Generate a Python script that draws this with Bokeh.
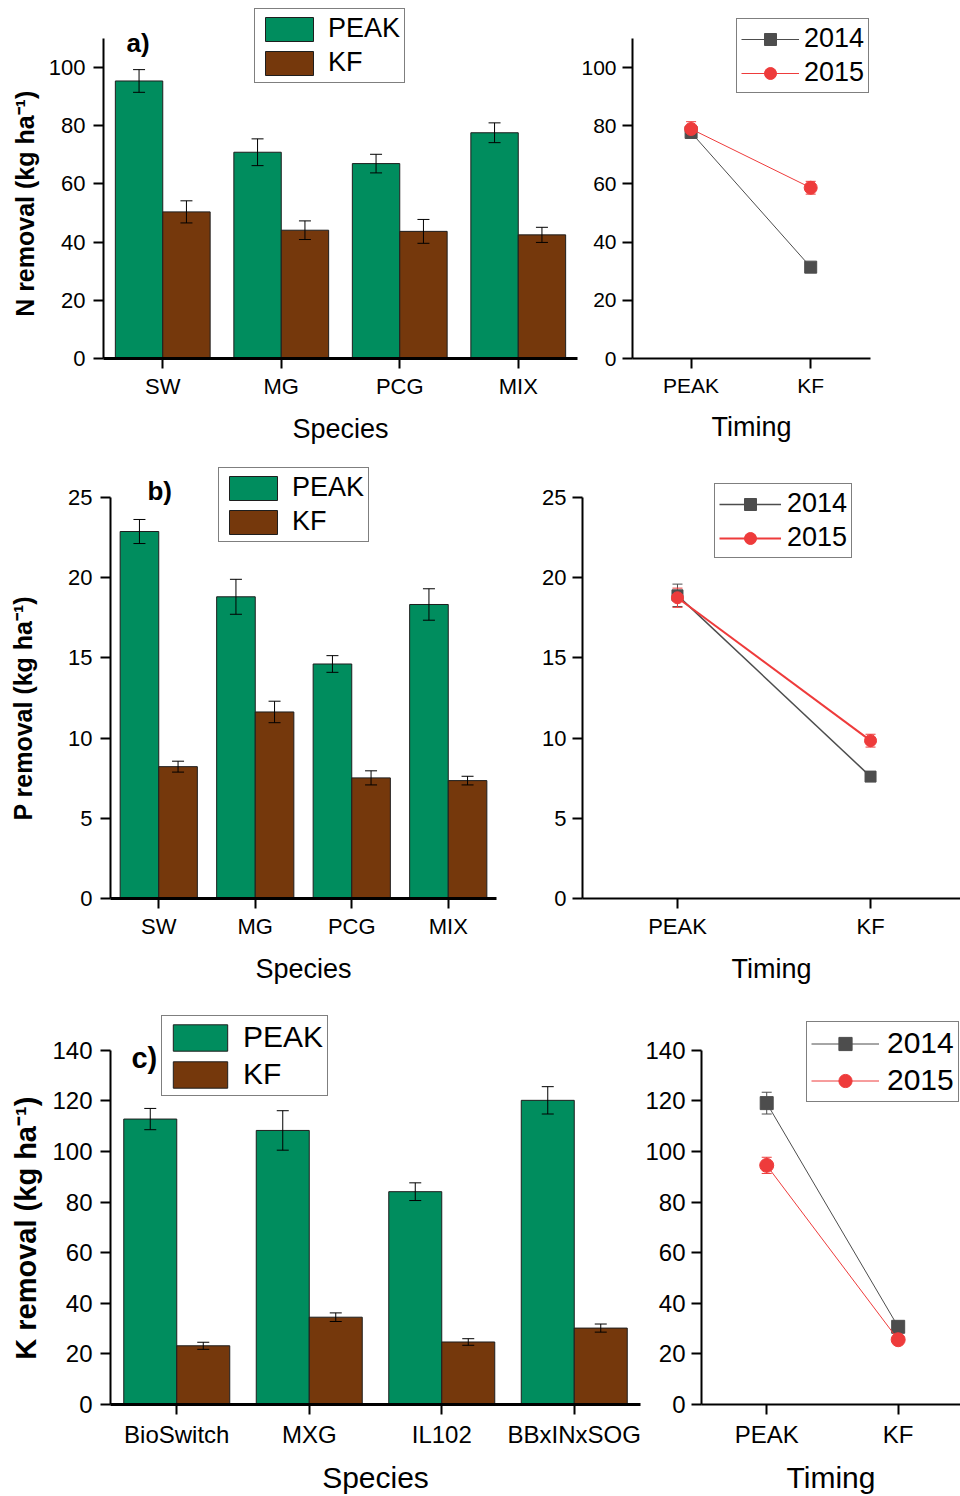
import numpy as np
from bokeh.plotting import figure
from bokeh.models import (Range1d, FixedTicker, Whisker, TeeHead, ColumnDataSource,
                          Legend, LegendItem, Label)
from bokeh.layouts import row, column
from bokeh.embed import file_html
from bokeh.resources import INLINE

# ---------------- data ----------------
species_np = ["SW", "MG", "PCG", "MIX"]
species_k = ["BioSwitch", "MXG", "IL102", "BBxINxSOG"]
timing = ["PEAK", "KF"]

n_peak = [95.4, 70.9, 67.0, 77.6]
n_peak_err = [3.9, 4.6, 3.2, 3.4]
n_kf = [50.4, 44.1, 43.7, 42.5]
n_kf_err = [3.8, 3.2, 4.1, 2.6]

p_peak = [22.88, 18.81, 14.62, 18.33]
p_peak_err = [0.75, 1.09, 0.52, 0.98]
p_kf = [8.22, 11.63, 7.52, 7.35]
p_kf_err = [0.34, 0.67, 0.44, 0.27]

k_peak = [112.8, 108.3, 84.1, 120.2]
k_peak_err = [4.2, 7.8, 3.5, 5.4]
k_kf = [23.2, 34.5, 24.7, 30.2]
k_kf_err = [1.4, 1.7, 1.3, 1.6]

n_2014 = [77.7, 31.4]
n_2014_err = [1.5, 1.0]
n_2015 = [78.9, 58.7]
n_2015_err = [2.5, 2.2]

p_2014 = [18.9, 7.6]
p_2014_err = [0.7, 0.2]
p_2015 = [18.75, 9.84]
p_2015_err = [0.6, 0.4]

k_2014 = [119.1, 30.7]
k_2014_err = [4.3, 1.0]
k_2015 = [94.5, 25.6]
k_2015_err = [3.2, 1.0]

# ---------------- style ----------------
FONT = "Liberation Sans"
GREEN = "#008d5e"
BROWN = "#75380c"
EDGE = "#1e1e1e"
GRAY = "#4d4d4d"
RED = "#ee3b3b"
NBSP = "\u00a0"


def base_fig(W, H, x0, x1, ymax, bl, br, bt, bb, extend_right):
    """Frame extends to the top (and optionally right) edge of the canvas so that
    legends/labels are not clipped; axis bounds keep the visible axes at the
    original extent."""
    ppu_y = (H - bt - bb) / ymax
    y_end = (H - bb) / ppu_y
    if extend_right:
        ppu_x = (W - bl - br) / (x1 - x0)
        x_end = x0 + (W - bl) / ppu_x
        br_used = 0
    else:
        x_end = x1
        br_used = br
    p = figure(width=W, height=H, x_range=Range1d(x0, x_end), y_range=Range1d(0, y_end),
               output_backend="svg", toolbar_location=None, min_border_left=bl,
               min_border_right=br_used, min_border_top=0, min_border_bottom=bb)
    p.outline_line_color = None
    p.xgrid.visible = False
    p.ygrid.visible = False
    p.background_fill_color = None
    p.border_fill_color = None
    p.xaxis[0].bounds = (x0, x1)
    p.yaxis[0].bounds = (0, ymax)
    return p


def style_axes(p, xticks, xlabels, yticks, tick_fs, xlabel, xlab_fs, ylabel, ylab_fs,
               xaxis_w, ylab_standoff, xlab_standoff, xtick_standoff):
    xa = p.xaxis[0]
    ya = p.yaxis[0]
    xa.ticker = FixedTicker(ticks=xticks)
    xa.major_label_overrides = {t: l for t, l in zip(xticks, xlabels)}
    ya.ticker = FixedTicker(ticks=yticks)
    for ax in (xa, ya):
        ax.major_tick_out = 10
        ax.major_tick_in = 0
        ax.minor_tick_line_color = None
        ax.major_tick_line_width = 2
        ax.major_tick_line_color = "black"
        ax.axis_line_color = "black"
        ax.major_label_text_font = FONT
        ax.major_label_text_font_size = f"{tick_fs}px"
        ax.major_label_text_color = "black"
        ax.axis_label_text_font = FONT
        ax.axis_label_text_color = "black"
    xa.axis_line_width = xaxis_w
    ya.axis_line_width = 2
    xa.major_label_standoff = xtick_standoff
    ya.major_label_standoff = 8
    xa.axis_label = xlabel
    xa.axis_label_text_font_size = f"{xlab_fs}px"
    xa.axis_label_text_font_style = "normal"
    xa.axis_label_standoff = xlab_standoff
    if ylabel:
        ya.axis_label = ylabel
        ya.axis_label_text_font_size = f"{ylab_fs}px"
        ya.axis_label_text_font_style = "bold"
        ya.axis_label_standoff = ylab_standoff


def add_legend(p, items, loc, gw, gh, standoff, fs):
    leg = Legend(items=items, location=loc, glyph_width=gw, glyph_height=gh,
                 label_standoff=standoff, padding=4, spacing=3, margin=0,
                 label_text_font=FONT, label_text_font_size=f"{fs}px",
                 label_text_color="black", label_height=gh,
                 border_line_color="black", border_line_width=1,
                 background_fill_color="white", background_fill_alpha=1.0)
    p.add_layout(leg)


def whisker(p, x, v, e, color, head, level):
    v = np.asarray(v, dtype=float)
    e = np.asarray(e, dtype=float)
    src = ColumnDataSource(dict(x=x, up=v + e, lo=v - e))
    w = Whisker(source=src, base="x", upper="up", lower="lo", line_color=color,
                line_width=1, level=level,
                upper_head=TeeHead(size=head, line_color=color, line_width=1),
                lower_head=TeeHead(size=head, line_color=color, line_width=1))
    p.add_layout(w)


def bar_panel(cats, peak, peak_err, kf, kf_err, ymax, yticks, ylabel, tag, tag_xy, tag_fs,
              W, H, bl, br, bt, bb, tick_fs, xlab_fs, ylab_fs, leg_loc, leg_gw, leg_gh,
              leg_fs, ylab_standoff, xlab_standoff, xtick_standoff):
    n = len(cats)
    p = base_fig(W, H, -0.5, n - 0.5, ymax, bl, br, bt, bb, False)
    idx = np.arange(n)
    r1 = p.vbar(x=idx - 0.2, top=peak, width=0.4, fill_color=GREEN,
                line_color=EDGE, line_width=1)
    r2 = p.vbar(x=idx + 0.2, top=kf, width=0.4, fill_color=BROWN,
                line_color=EDGE, line_width=1)
    whisker(p, idx - 0.2, peak, peak_err, "black", 12, "annotation")
    whisker(p, idx + 0.2, kf, kf_err, "black", 12, "annotation")
    style_axes(p, list(range(n)), cats, yticks, tick_fs, "Species", xlab_fs, ylabel,
               ylab_fs, 3, ylab_standoff, xlab_standoff, xtick_standoff)
    add_legend(p, [LegendItem(label="PEAK", renderers=[r1]),
                   LegendItem(label="KF", renderers=[r2])],
               leg_loc, leg_gw, leg_gh, 9, leg_fs)
    p.add_layout(Label(x=tag_xy[0], y=tag_xy[1], text=tag, text_font=FONT,
                       text_font_style="bold", text_font_size=f"{tag_fs}px",
                       text_baseline="middle", text_align="left", text_color="black"))
    return p


def line_panel(v14, e14, v15, e15, ymax, yticks, xr, W, H, bl, br, bt, bb, tick_fs,
               xlab_fs, lw14, lw15, ms, leg_loc, leg_gw, leg_gh, leg_fs, leg_standoff,
               xtick_standoff, xlab_standoff, extend_right):
    p = base_fig(W, H, xr[0], xr[1], ymax, bl, br, bt, bb, extend_right)
    x = np.arange(len(timing))
    whisker(p, x, v14, e14, GRAY, 10, "underlay")
    whisker(p, x, v15, e15, RED, 10, "underlay")
    l14 = p.line(x, v14, line_color=GRAY, line_width=lw14)
    s14 = p.scatter(x, v14, marker="square", size=ms, fill_color=GRAY, line_color=GRAY)
    l15 = p.line(x, v15, line_color=RED, line_width=lw15)
    s15 = p.scatter(x, v15, marker="circle", size=ms + 1, fill_color=RED, line_color=RED)
    style_axes(p, list(range(len(timing))), timing, yticks, tick_fs, "Timing", xlab_fs,
               None, 0, 2, 0, xlab_standoff, xtick_standoff)
    p.yaxis[0].major_label_standoff = 6
    add_legend(p, [LegendItem(label="2014", renderers=[l14, s14]),
                   LegendItem(label="2015", renderers=[l15, s15])],
               leg_loc, leg_gw, leg_gh, leg_standoff, leg_fs)
    return p


# trailing no-break spaces re-centre the y titles on the visible axis
ylab_n = "N removal (kg ha\u207b\u00b9)" + NBSP * 7
ylab_p = "P removal (kg ha\u207b\u00b9)" + NBSP * 9
ylab_k = "K removal (kg ha\u207b\u00b9)" + NBSP * 7

fa = bar_panel(species_np, n_peak, n_peak_err, n_kf, n_kf_err, 110, [0, 20, 40, 60, 80, 100],
               ylab_n, "a)", (-0.306, 108.3), 26, 578, 455, 103, 1, 38, 97, 22, 27, 25,
               (151, 275), 60, 30, 27, 7, 12, 5)
fla = line_panel(n_2014, n_2014_err, n_2015, n_2015_err, 110, [0, 20, 40, 60, 80, 100],
                 (-0.49, 1.5), 382, 455, 54, 90, 38, 97, 21, 27, 1, 1, 12,
                 (104, 265), 58, 30, 27, 5, 5, 12, False)

fb = bar_panel(species_np, p_peak, p_peak_err, p_kf, p_kf_err, 25, [0, 5, 10, 15, 20, 25],
               ylab_p, "b)", (-0.117, 25.4), 26, 515, 540, 110, 19, 42, 97, 22, 27, 25,
               (108, 356), 60, 30, 27, 28, 12, 5)
flb = line_panel(p_2014, p_2014_err, p_2015, p_2015_err, 25, [0, 5, 10, 15, 20, 25],
                 (-0.492, 1.466), 445, 540, 67, 0, 42, 97, 22, 27, 1.5, 2, 11,
                 (132, 340), 62, 30, 27, 6, 5, 12, True)

fc = bar_panel(species_k, k_peak, k_peak_err, k_kf, k_kf_err, 140,
               [0, 20, 40, 60, 80, 100, 120, 140], ylab_k, "c)", (-0.342, 136.9), 29,
               642, 501, 110, 2, 55, 90, 24, 30, 29, (51, 308), 68, 33, 30, 7, 10, 6)
flc = line_panel(k_2014, k_2014_err, k_2015, k_2015_err, 140,
                 [0, 20, 40, 60, 80, 100, 120, 140], (-0.496, 1.474), 318, 501, 56, 0, 55,
                 90, 24, 30, 1, 1, 13, (105, 302), 68, 33, 30, 8, 6, 10, True)

layout = column(row(fa, fla), row(fb, flb), row(fc, flc))
open("out.html", "w").write(file_html(layout, INLINE))
